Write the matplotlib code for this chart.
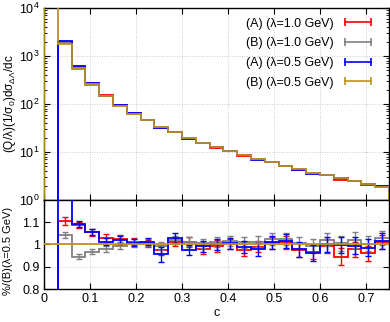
import numpy as np
import matplotlib
matplotlib.use("Agg")
import matplotlib.pyplot as plt
from matplotlib.lines import Line2D
from matplotlib.ticker import FixedLocator, FormatStrFormatter, LogLocator, NullFormatter

plt.rcParams.update({
    "font.family": "Liberation Sans",
    "font.size": 9,
    "mathtext.fontset": "custom",
    "mathtext.rm": "Liberation Sans",
    "mathtext.it": "Liberation Sans:italic",
})

# ── data: 25 bins of width 0.03 in c ──────────────────────────────────────────
edges = np.round(np.arange(0, 0.7501, 0.03), 3)
centers = 0.5 * (edges[:-1] + edges[1:])

labels = ["(A) (λ=1.0 GeV)", "(B) (λ=1.0 GeV)", "(A) (λ=0.5 GeV)", "(B) (λ=0.5 GeV)"]
colors = ["#ff0000", "#808080", "#0000ff", "#c0901e"]

# main panel (zero first bin drawn below the axis)
dist_A1 = [0, 1990, 604, 276, 151, 94, 63.8, 46.2, 32.2, 26.0, 19.5, 15.3, 12.4,
           10.5, 8.4, 7.0, 6.14, 5.15, 4.25, 3.57, 3.25, 2.67, 2.44, 2.10, 1.91]
dist_B1 = [0, 1880, 524, 254, 144, 91.5, 63.0, 46.4, 32.8, 26.2, 19.55, 15.7, 12.66,
           10.68, 8.69, 7.19, 6.25, 5.23, 4.39, 3.67, 3.34, 2.84, 2.54, 2.20, 1.95]
dist_A05 = [0, 2100, 610, 280, 149, 94, 63.5, 46.6, 31.5, 26.5, 18.8, 15.5, 12.5,
            10.55, 8.5, 6.95, 6.15, 5.18, 4.26, 3.56, 3.27, 2.82, 2.48, 2.16, 1.92]
dist_B05 = [30000, 1800, 555, 262, 147, 92, 63, 46, 33, 25.7, 19.3, 15.6, 12.5,
            10.5, 8.6, 7.1, 6.1, 5.1, 4.36, 3.7, 3.27, 2.83, 2.49, 2.19, 1.89]

# ratio to (B)(λ=0.5 GeV)
ratio_A1 = [0, 1.107, 1.089, 1.055, 1.029, 1.023, 1.013, 1.005, 0.975, 1.01, 1.01, 0.98, 0.993,
            1.002, 0.975, 0.99, 1.007, 1.01, 0.975, 0.966, 0.993, 0.945, 0.978, 0.96, 1.012]
ratio_B1 = [0, 1.043, 0.945, 0.968, 0.98, 0.995, 1.001, 1.008, 0.995, 1.02, 1.013, 1.005, 1.013,
            1.017, 1.01, 1.012, 1.025, 1.025, 1.007, 0.993, 1.022, 1.005, 1.02, 1.003, 1.03]
ratio_A05 = [0, 1.30, 1.092, 1.056, 1.013, 1.02, 1.008, 1.013, 0.956, 1.03, 0.975, 0.992, 1.0,
             1.005, 0.99, 0.978, 1.01, 1.015, 0.978, 0.963, 1.0, 0.997, 0.995, 0.985, 1.015]
ratio_B05 = [1.0] * 25

err_A1 = [0, .018, .014, .015, .016, .018, .015, .016, .02, .018, .022, .022, .025,
          .022, .025, .025, .025, .03, .03, .03, .03, .039, .035, .035, .03]
err_B1 = [0, .015, .012, .011, .013, .014, .014, .015, .018, .018, .02, .02, .022,
          .022, .024, .025, .025, .028, .028, .03, .03, .032, .035, .034, .032]
err_A05 = [0, .02, .013, .014, .016, .018, .016, .016, .035, .022, .024, .024, .026,
           .025, .027, .028, .028, .032, .032, .035, .035, .036, .038, .038, .035]

series = [
    (dist_A1, ratio_A1, err_A1),
    (dist_B1, ratio_B1, err_B1),
    (dist_A05, ratio_A05, err_A05),
    (dist_B05, ratio_B05, None),
]

# ── figure ───────────────────────────────────────────────────────────────────
W, H = 390, 322
fig = plt.figure(figsize=(W / 100, H / 100), dpi=100)
ax1 = fig.add_axes([44 / W, 1 - 200 / H, 345 / W, 192 / H])
ax2 = fig.add_axes([44 / W, 1 - 289 / H, 345 / W, 89 / H])

for (dist, ratio, err), col in zip(series, colors):
    d = np.where(np.array(dist) > 0, dist, 1e-5)
    ax1.stairs(d, edges, baseline=1e-5, color=col, lw=1.3, zorder=3)
    ax2.stairs(ratio, edges, baseline=None, color=col, lw=1.3, zorder=3)
    if err is not None:
        ax2.errorbar(centers[1:], ratio[1:], yerr=err[1:], fmt="none", ecolor=col,
                     elinewidth=1.0, capsize=2.2, capthick=1.0, zorder=3)

# main panel
ax1.set_yscale("log")
ax1.set_xlim(0, 0.75)
ax1.set_ylim(1, 1e4)
ax1.yaxis.set_major_locator(LogLocator(base=10, numticks=10))
ax1.yaxis.set_minor_locator(LogLocator(base=10, subs=np.arange(2, 10), numticks=20))
ax1.yaxis.set_minor_formatter(NullFormatter())
ax1.set_xticks(np.arange(0, 0.75, 0.1))
ax1.tick_params(labelbottom=False)
ax1.set_ylabel(r"(Q/λ)(1/σ$_0$)dσ$_{\mathregular{ΔΛ}}$/dc", fontsize=8.5)
ax1.yaxis.set_label_coords(-0.076, 0.5)

# ratio panel
ax2.set_xlim(0, 0.75)
ax2.set_ylim(0.8, 1.2)
ax2.set_xticks(np.arange(0, 0.75, 0.1))
ax2.xaxis.set_major_formatter(FormatStrFormatter("%g"))
ax2.yaxis.set_major_locator(FixedLocator([0.8, 0.9, 1.0, 1.1]))
ax2.yaxis.set_major_formatter(FormatStrFormatter("%g"))
ax2.set_xlabel("c", labelpad=1)
ax2.set_ylabel("%/(B)(λ=0.5 GeV)", fontsize=8)
ax2.yaxis.set_label_coords(-0.09, 0.43)

for ax in (ax1, ax2):
    ax.grid(True, which="major", color="#b8b8b8", lw=0.6, ls=(0, (1, 2)))
    ax.tick_params(which="both", direction="in", top=True, right=True, pad=3)
    ax.tick_params(which="major", length=4)
    ax.tick_params(which="minor", length=2)
    for s in ax.spines.values():
        s.set_linewidth(1.0)

handles = [Line2D([0], [0], color=c, lw=1.2, marker="|", markersize=6, markeredgewidth=1.2)
           for c in colors]
ax1.legend(handles, labels, loc="upper right", bbox_to_anchor=(0.96, 0.95),
           frameon=False, markerfirst=False, numpoints=2, handlelength=2.7,
           handletextpad=0.6, labelspacing=0.62, borderpad=0, borderaxespad=0)

fig.savefig("out.png", dpi=100)
